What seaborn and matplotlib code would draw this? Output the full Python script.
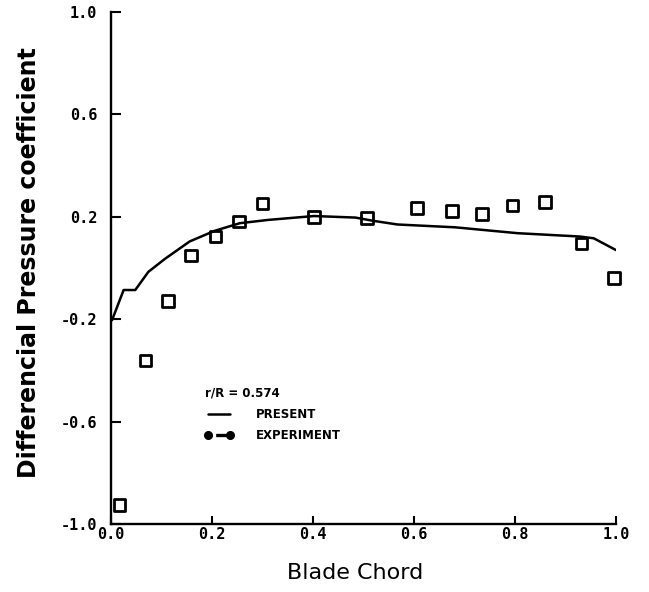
import matplotlib
matplotlib.use("Agg")
import matplotlib.pyplot as plt
import seaborn as sns
import pandas as pd
from matplotlib.lines import Line2D

# ---- data ----
exp_x = [0.017, 0.068, 0.113, 0.158, 0.207, 0.253, 0.300, 0.402, 0.507,
         0.606, 0.675, 0.735, 0.795, 0.860, 0.932, 0.996]
exp_y = [-0.925, -0.362, -0.129, 0.049, 0.123, 0.182, 0.252, 0.199, 0.196,
         0.234, 0.222, 0.210, 0.244, 0.258, 0.096, -0.040]

pres_x = [0.002, 0.025, 0.048, 0.074, 0.107, 0.156, 0.205, 0.255, 0.312,
          0.402, 0.484, 0.517, 0.567, 0.681, 0.805, 0.928, 0.956, 1.000]
pres_y = [-0.204, -0.086, -0.086, -0.015, 0.036, 0.104, 0.145, 0.175, 0.188,
          0.203, 0.197, 0.185, 0.170, 0.159, 0.136, 0.123, 0.116, 0.070]

x_ticks = [0.0, 0.2, 0.4, 0.6, 0.8, 1.0]
x_tick_labels = ["0.0", "0.2", "0.4", "0.6", "0.8", "1.0"]
y_ticks = [-1.0, -0.6, -0.2, 0.2, 0.6, 1.0]
y_tick_labels = ["-1.0", "-0.6", "-0.2", "0.2", "0.6", "1.0"]

legend_title = "r/R = 0.574"
legend_labels = ["PRESENT", "EXPERIMENT"]

exp_df = pd.DataFrame({"x": exp_x, "y": exp_y})
pres_df = pd.DataFrame({"x": pres_x, "y": pres_y})

sns.set_theme(style="white")
plt.rcParams["font.family"] = ["DejaVu Sans"]
plt.rcParams["axes.unicode_minus"] = False
plt.rcParams["text.color"] = "black"
plt.rcParams["axes.labelcolor"] = "black"

fig = plt.figure(figsize=(6.49, 5.92), dpi=100)
W, H = 649, 592
ax = fig.add_axes([111 / W, (H - 524) / H, 505 / W, 512 / H])

sns.lineplot(data=pres_df, x="x", y="y", sort=False, color="black",
             linewidth=1.8, ax=ax, estimator=None)
sns.scatterplot(data=exp_df, x="x", y="y", marker="s", s=70,
                facecolor="none", edgecolor="black", linewidth=2.0,
                ax=ax, clip_on=False, zorder=3)

ax.set_xlim(0, 1.0)
ax.set_ylim(-1.0, 1.0)
sns.despine(ax=ax)
for sp in ("left", "bottom"):
    ax.spines[sp].set_linewidth(1.7)
    ax.spines[sp].set_color("black")

ax.set_xticks(x_ticks)
ax.set_xticklabels(x_tick_labels, family="DejaVu Sans Mono",
                   fontweight="bold", fontsize=11)
ax.set_yticks(y_ticks)
ax.set_yticklabels(y_tick_labels, family="DejaVu Sans Mono",
                   fontweight="bold", fontsize=11)
ax.tick_params(axis="y", direction="in", length=7, width=1.5, pad=10,
               colors="black", left=True)
ax.tick_params(axis="x", direction="in", length=6, width=1.5, pad=2,
               colors="black", bottom=True)

ax.set_xlabel("Blade Chord", fontsize=16, color="black")
ax.xaxis.set_label_coords(0.483, -0.076)
ax.set_ylabel("Differencial Pressure coefficient", fontsize=17,
              fontweight="bold", color="black")
ax.yaxis.set_label_coords(-0.162, 0.51)
ax.yaxis.label.set_va("center")

handles = [
    Line2D([], [], color="black", linewidth=1.8),
    Line2D([], [], color="black", linewidth=2.4, linestyle=(0, (0.1, 2.2, 3, 0)),
           marker="o", markersize=5.5),
]
leg = ax.legend(handles, legend_labels, title=legend_title, loc="upper left",
                bbox_to_anchor=(0.186, 0.268), frameon=False, borderpad=0,
                borderaxespad=0, handlelength=2.4, handletextpad=1.9,
                labelspacing=0.7, numpoints=2, alignment="left",
                prop={"weight": "bold", "size": 8.5},
                title_fontproperties={"weight": "bold", "size": 8.5})
for t in leg.get_texts():
    t.set_color("black")
leg.get_title().set_color("black")

fig.savefig("out.png", dpi=100, facecolor="white")
